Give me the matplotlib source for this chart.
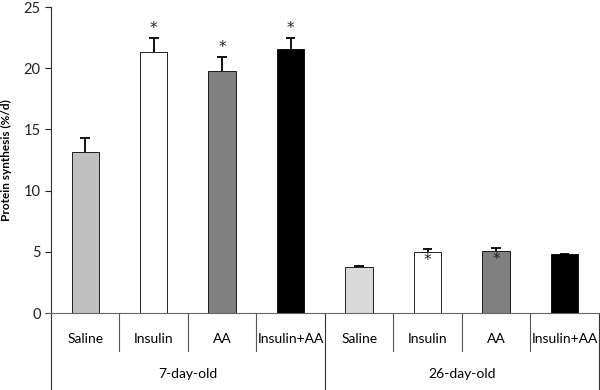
import matplotlib.pyplot as plt
import matplotlib.transforms as mtransforms
import numpy as np

plt.rcParams['font.family'] = ['Lato', 'DejaVu Sans']

groups = ['7-day-old', '26-day-old']
treatments = ['Saline', 'Insulin', 'AA', 'Insulin+AA']
means = np.array([13.2, 21.3, 19.8, 21.55, 3.76, 4.98, 5.07, 4.8])
errs = np.array([1.1, 1.2, 1.15, 0.95, 0.09, 0.22, 0.23, 0.07])
colors = ['#c0c0c0', '#ffffff', '#808080', '#000000',
          '#d9d9d9', '#ffffff', '#808080', '#000000']
stars = [False, True, True, True, False, True, True, False]

fig = plt.figure(figsize=(6, 3.9), dpi=100)
ax = fig.add_axes([0.085, 0.197, 0.913, 0.785])

x = np.arange(len(means))
ax.bar(x, means, width=0.4, color=colors, edgecolor='black', linewidth=0.6, zorder=2)
# upper error bars only
ax.vlines(x, means, means + errs, color='black', lw=1.3, zorder=3)
ax.hlines(means + errs, x - 0.07, x + 0.07, color='black', lw=1.3, zorder=3)

for i in range(len(means)):
    if not stars[i]:
        continue
    if i < 4:
        ax.text(x[i], means[i] + errs[i] + 0.15, '*', ha='center', va='bottom',
                fontsize=11, family='DejaVu Sans', color='#222222')
    else:
        ax.text(x[i], means[i] - 0.1, '*', ha='center', va='top', fontsize=11,
                family='DejaVu Sans', color='#222222', zorder=4)

ax.set_xlim(-0.5, len(means) - 0.5)
ax.set_ylim(0, 25)
ax.set_yticks([0, 5, 10, 15, 20, 25])
ax.tick_params(axis='y', direction='out', length=4, labelsize=10.5, colors='#222222')
ax.set_xticks([])
ax.spines['top'].set_visible(False)
ax.spines['right'].set_visible(False)
ax.spines['left'].set_color('#333333')
ax.spines['bottom'].set_color('#666666')
ax.set_ylabel('Protein synthesis (%/d)', fontsize=8.5, fontweight='bold', labelpad=8)

trans = mtransforms.blended_transform_factory(ax.transData, ax.transAxes)
for i in range(len(means)):
    ax.text(x[i], -0.085, treatments[i % 4], transform=trans, ha='center', va='center',
            fontsize=10)
for k in range(1, len(means)):
    if k % 4 == 0:
        continue
    ax.plot([k - 0.5, k - 0.5], [0, -0.125], transform=trans, color='#555555',
            lw=0.8, clip_on=False)
for k in [-0.5, 3.5, 7.5]:
    ax.plot([k, k], [0, -0.25], transform=trans, color='#333333',
            lw=0.8, clip_on=False)
ax.plot([-0.56, -0.5], [0, 0], transform=trans, color='#666666', lw=0.8, clip_on=False)
for g, name in enumerate(groups):
    ax.text(g * 4 + 1.5, -0.2, name, transform=trans, ha='center', va='center',
            fontsize=10)

fig.savefig('out.png', dpi=100)
